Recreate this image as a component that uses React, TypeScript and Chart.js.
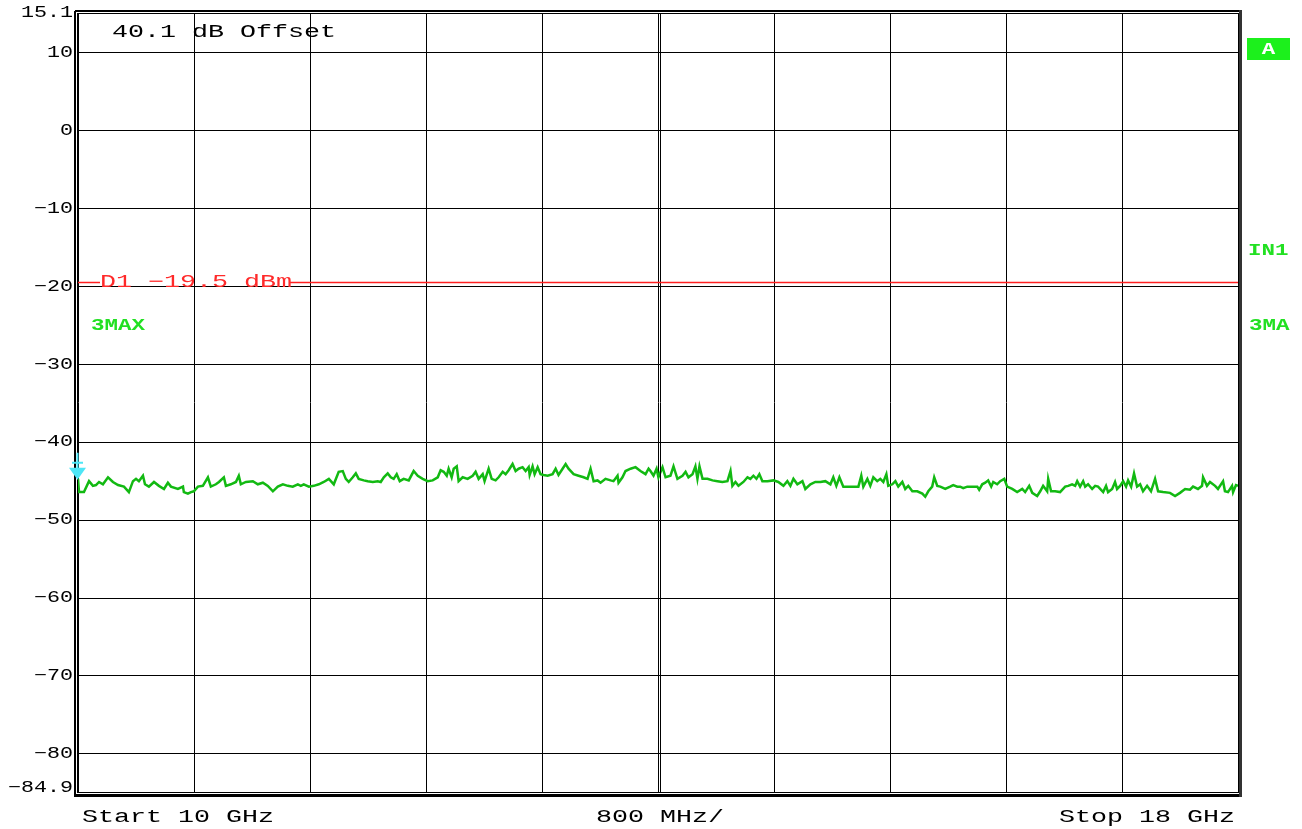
import { useEffect, useRef } from 'react';
import { Chart, registerables } from 'chart.js';

Chart.register(...registerables);

// ---- data ----
const freqMHz = [
  10000, 10007, 10041, 10076, 10103, 10124, 10145, 10172, 10207, 10241, 10276, 10317, 10351, 10379, 10400, 10420,
  10448, 10462, 10489, 10524, 10558, 10593, 10620, 10641, 10689, 10724, 10730, 10758, 10779, 10799, 10827, 10861,
  10896, 10916, 10951, 10972, 11006, 11020, 11054, 11089, 11109, 11123, 11158, 11206, 11240, 11275, 11309, 11344,
  11378, 11413, 11447, 11481, 11516, 11537, 11557, 11592, 11626, 11661, 11695, 11730, 11764, 11798, 11826, 11847,
  11867, 11895, 11916, 11936, 11971,
  11998, 12033, 12067, 12088, 12109, 12136, 12157, 12177, 12198, 12219, 12246, 12281, 12315, 12343, 12377, 12412,
  12446, 12481, 12501, 12522, 12543, 12556, 12577, 12591, 12612, 12625, 12653, 12687, 12722, 12742, 12763, 12791,
  12804, 12832, 12853, 12880, 12901, 12929, 12949, 12970, 12997, 13018, 13039, 13066, 13087, 13108, 13115, 13135,
  13149, 13170, 13190, 13211, 13239, 13273, 13294, 13314, 13342, 13363, 13383, 13418, 13452, 13487, 13514, 13535,
  13556, 13583, 13604, 13638, 13673, 13693, 13721, 13728, 13755, 13776, 13811, 13845, 13879, 13914, 13935,
  13948, 13969, 13990, 14003, 14031, 14052, 14086, 14107, 14134, 14169, 14190, 14210, 14238, 14258, 14272, 14286,
  14307, 14341, 14376, 14410, 14444, 14479, 14500, 14513, 14534, 14555, 14589, 14617, 14637, 14658, 14679, 14699,
  14720, 14755, 14796, 14830, 14865, 14892, 14913, 14934, 14961, 14996, 15016, 15051, 15085, 15120, 15154, 15189,
  15209, 15230, 15251, 15278, 15313, 15347, 15382, 15402, 15416, 15444, 15464, 15485, 15512, 15533, 15554, 15575,
  15588, 15616, 15637, 15657, 15685, 15705, 15726, 15754, 15788, 15823, 15843, 15864, 15891, 15905, 15926,
  15947, 15981, 16015, 16036, 16064, 16084, 16105, 16133, 16167, 16202, 16215, 16236, 16257, 16277, 16298, 16312,
  16339, 16360, 16388, 16408, 16443, 16477, 16512, 16532, 16560, 16581, 16615, 16636, 16656, 16684, 16691, 16711,
  16739, 16773, 16808, 16829, 16856, 16877, 16891, 16911, 16932, 16946, 16966, 16994, 17015, 17035, 17070, 17090,
  17104, 17132, 17152, 17166, 17187, 17208, 17228, 17242, 17263, 17283, 17304, 17325, 17345, 17373, 17400, 17428,
  17449, 17483, 17531, 17566, 17600, 17635, 17669, 17690, 17724, 17752, 17759, 17786, 17807, 17842, 17862, 17897,
  17910, 17931, 17959, 17966, 17986, 18000,
];

const levelDbm = [
  -44.7, -46.4, -46.4, -45.0, -45.6, -45.5, -45.1, -45.4, -44.5, -45.1, -45.5, -45.7, -46.4, -45.0, -44.7, -45.0,
  -44.3, -45.4, -45.7, -45.1, -45.6, -46.0, -45.2, -45.7, -46.0, -45.7, -46.4, -46.6, -46.4, -46.3, -45.7, -45.6,
  -44.5, -45.7, -45.4, -45.1, -44.5, -45.6, -45.4, -45.1, -44.3, -45.4, -45.1, -45.0, -45.4, -45.2, -45.6, -46.3,
  -45.7, -45.4, -45.6, -45.7, -45.4, -45.6, -45.4, -45.7, -45.6, -45.4, -45.1, -44.7, -45.4, -43.8, -43.7, -44.7,
  -45.1, -44.5, -44.0, -44.7, -44.9,
  -45.0, -45.1, -45.0, -45.1, -44.5, -44.0, -44.5, -44.7, -44.1, -45.0, -44.7, -44.9, -43.7, -44.3, -44.7, -45.0,
  -44.9, -44.5, -43.6, -43.8, -44.3, -43.4, -44.5, -43.4, -43.1, -45.0, -44.5, -44.7, -44.3, -43.8, -44.7, -44.1,
  -45.0, -43.4, -44.7, -44.9, -44.5, -43.8, -44.1, -43.6, -42.8, -43.7, -43.4, -43.2, -43.7, -43.2, -44.2, -43.1,
  -44.1, -43.2, -44.1, -44.2, -44.3, -44.1, -43.4, -44.2, -43.4, -42.8, -43.4, -44.1, -44.3, -44.5, -44.7, -43.4,
  -45.0, -44.9, -45.2, -44.7, -44.9, -45.0, -44.3, -45.2, -44.5, -43.7, -43.4, -43.2, -43.7, -44.1, -43.4,
  -43.7, -44.3, -43.4, -44.5, -43.2, -44.5, -44.3, -43.1, -44.7, -44.3, -43.8, -44.5, -44.1, -43.1, -44.7, -43.1,
  -44.7, -44.7, -44.9, -45.0, -45.1, -45.0, -43.7, -45.6, -45.1, -45.6, -45.1, -44.5, -44.7, -44.3, -44.7, -44.1,
  -45.0, -45.0, -44.9, -45.1, -45.6, -45.0, -45.6, -44.7, -45.4, -45.0, -46.0, -45.4, -45.1, -45.1, -45.0, -45.4,
  -44.5, -45.6, -44.5, -45.7, -45.7, -45.7, -45.7, -44.3, -45.7, -44.7, -45.6, -44.5, -45.0, -44.7, -45.1, -44.1,
  -45.6, -45.4, -45.0, -45.7, -45.1, -46.0, -45.6, -46.3, -46.3, -46.6, -47.0, -46.3, -45.7, -44.5, -45.6,
  -45.7, -46.0, -45.7, -45.5, -45.7, -45.7, -45.9, -45.7, -45.7, -45.7, -46.1, -45.4, -45.2, -44.9, -45.7, -45.1,
  -45.4, -45.0, -44.7, -45.7, -46.0, -46.4, -46.0, -46.4, -45.6, -46.5, -46.9, -46.3, -45.6, -46.3, -44.7, -46.3,
  -46.3, -46.4, -45.7, -45.6, -45.4, -45.6, -45.0, -45.7, -45.0, -45.7, -45.4, -46.0, -45.6, -45.7, -46.4, -45.6,
  -46.4, -46.0, -45.1, -46.0, -45.6, -45.0, -45.7, -44.9, -45.7, -44.0, -45.7, -45.4, -46.3, -45.6, -46.3, -44.7,
  -46.3, -46.4, -46.5, -46.9, -46.5, -46.0, -46.1, -45.7, -46.0, -45.6, -44.5, -45.6, -45.1, -45.6, -46.0, -45.0,
  -46.3, -46.4, -45.6, -46.4, -45.5, -45.6,
];

const startMHz = 10000;
const stopMHz = 18000;
const spanPerDivMHz = 800;
const refLevelDbm = 15.1;
const bottomLevelDbm = -84.9;
const yTickValues = [15.1, 10, 0, -10, -20, -30, -40, -50, -60, -70, -80, -84.9];
const yTickLabels = ['15.1', '10', '0', '−10', '−20', '−30', '−40', '−50', '−60', '−70', '−80', '−84.9'];
const displayLineDbm = -19.5;
const displayLineLabel = 'D1 −19.5 dBm';
const offsetLabel = '40.1 dB Offset';
const bottomLabels = ['Start 10 GHz', '800 MHz/', 'Stop 18 GHz'];
const traceLabel = '3MAX';
const rightLabels = ['IN1', '3MA'];
const screenLabel = 'A';

const MONO = '"Liberation Mono", "DejaVu Sans Mono", monospace';

function stretchText(
  ctx: CanvasRenderingContext2D,
  text: string,
  x: number,
  y: number,
  size: number,
  sx: number,
  color: string,
  align: CanvasTextAlign = 'left',
  baseline: CanvasTextBaseline = 'alphabetic',
  bold = false,
) {
  ctx.save();
  ctx.translate(x, y);
  ctx.scale(sx, 1);
  ctx.font = `${bold ? 'bold ' : ''}${size}px ${MONO}`;
  ctx.fillStyle = color;
  ctx.textAlign = align;
  ctx.textBaseline = baseline;
  ctx.fillText(text, 0, 0);
  ctx.restore();
}

const overlayPlugin = {
  id: 'analyzerOverlay',
  afterDatasetsDraw(chart: any) {
    const ctx: CanvasRenderingContext2D = chart.ctx;
    const xs = chart.scales.x;
    const ys = chart.scales.y;
    const { left, right, top, bottom } = chart.chartArea;

    // center double line
    const cx = xs.getPixelForValue((startMHz + stopMHz) / 2);
    ctx.save();
    ctx.strokeStyle = '#000';
    ctx.lineWidth = 1;
    ctx.beginPath();
    ctx.moveTo(Math.round(cx) + 2.5, top);
    ctx.lineTo(Math.round(cx) + 2.5, bottom);
    ctx.stroke();
    ctx.restore();

    // display line D1
    const dy = ys.getPixelForValue(displayLineDbm);
    const textX = left + 22;
    const textW = displayLineLabel.length * 16;
    ctx.save();
    ctx.strokeStyle = '#ff2020';
    ctx.lineWidth = 1.5;
    ctx.beginPath();
    ctx.moveTo(left, dy);
    ctx.lineTo(textX, dy);
    ctx.moveTo(textX + textW - 2, dy);
    ctx.lineTo(right, dy);
    ctx.stroke();
    ctx.restore();
    stretchText(ctx, displayLineLabel, textX, dy + 4.5, 18, 16 / 10.8, '#ff2a2a');

    // offset label
    stretchText(ctx, offsetLabel, left + 34, top + 24, 18, 16 / 10.8, '#000');

    // trace label inside
    stretchText(ctx, traceLabel, left + 13, ys.getPixelForValue(-25.1), 16, 13.5 / 9.6, '#22e022', 'left', 'middle', true);
  },
  afterDraw(chart: any) {
    const ctx: CanvasRenderingContext2D = chart.ctx;
    const ys = chart.scales.y;
    const { left, right, top, bottom } = chart.chartArea;

    // frame: inner thin + outer thick
    ctx.save();
    ctx.strokeStyle = '#000';
    ctx.lineWidth = 1;
    ctx.strokeRect(left - 0.5, top + 0.5, right - left + 1, bottom - top);
    ctx.lineWidth = 2;
    ctx.beginPath();
    ctx.moveTo(left - 3, top - 2);
    ctx.lineTo(right + 3, top - 2);
    ctx.stroke();
    ctx.beginPath();
    ctx.moveTo(left - 3, top - 2);
    ctx.lineTo(left - 3, bottom + 3);
    ctx.stroke();
    ctx.lineWidth = 3;
    ctx.beginPath();
    ctx.moveTo(left - 4, bottom + 3.5);
    ctx.lineTo(right + 3, bottom + 3.5);
    ctx.stroke();
    ctx.strokeStyle = '#333';
    ctx.beginPath();
    ctx.moveTo(right + 2.5, top - 3);
    ctx.lineTo(right + 2.5, bottom + 5);
    ctx.stroke();
    ctx.restore();

    // marker at first point (drawn on top of the frame)
    const meta = chart.getDatasetMeta(0);
    const p0 = meta.data[0];
    if (p0) {
      const mx = Math.round(p0.x) - 0.5;
      const my = p0.y;
      ctx.save();
      ctx.fillStyle = '#4ee6f6';
      ctx.strokeStyle = '#4ee6f6';
      ctx.lineWidth = 2;
      ctx.beginPath();
      ctx.moveTo(mx, my - 26);
      ctx.lineTo(mx, my - 10);
      ctx.moveTo(mx - 5.5, my - 16);
      ctx.lineTo(mx + 5.5, my - 16);
      ctx.stroke();
      ctx.beginPath();
      ctx.moveTo(mx - 8.5, my - 11);
      ctx.lineTo(mx + 8.5, my - 11);
      ctx.lineTo(mx, my + 1);
      ctx.closePath();
      ctx.fill();
      ctx.restore();
    }

    // y tick labels
    yTickValues.forEach((v, i) => {
      let y = ys.getPixelForValue(v);
      if (i === yTickValues.length - 1) y -= 4;
      stretchText(ctx, yTickLabels[i], left - 5, y, 16, 13 / 9.6, '#000', 'right', 'middle');
    });

    // bottom labels
    const by = 822;
    stretchText(ctx, bottomLabels[0], left + 4, by, 18, 16 / 10.8, '#000', 'left');
    stretchText(ctx, bottomLabels[1], (left + right) / 2 + 2, by, 18, 16 / 10.8, '#000', 'center');
    stretchText(ctx, bottomLabels[2], right - 3, by, 18, 16 / 10.8, '#000', 'right');

    // right side labels
    ctx.save();
    ctx.fillStyle = '#1cf01c';
    ctx.fillRect(right + 9, 38, 43, 22);
    ctx.restore();
    stretchText(ctx, screenLabel, right + 30.5, 49.5, 16, 1.4, '#fff', 'center', 'middle', true);
    stretchText(ctx, rightLabels[0], right + 10, ys.getPixelForValue(-15.4), 16, 13.5 / 9.6, '#22e022', 'left', 'middle', true);
    stretchText(ctx, rightLabels[1], right + 11, ys.getPixelForValue(-25.1), 16, 13.5 / 9.6, '#22e022', 'left', 'middle', true);
  },
};

export default function App() {
  const canvasRef = useRef<HTMLCanvasElement | null>(null);

  useEffect(() => {
    const canvas = canvasRef.current;
    if (!canvas) return;
    const points = freqMHz.map((f, i) => ({ x: f, y: levelDbm[i] }));
    const chart = new Chart(canvas, {
      type: 'line',
      data: {
        datasets: [
          {
            data: points,
            borderColor: '#12b912',
            borderWidth: 2.5,
            pointRadius: 0,
            tension: 0,
            fill: false,
          },
        ],
      },
      options: {
        animation: false,
        responsive: false,
        maintainAspectRatio: false,
        layout: { padding: { left: 78, right: 64, top: 13, bottom: 37 } },
        plugins: { legend: { display: false }, tooltip: { enabled: false } },
        scales: {
          x: {
            type: 'linear',
            min: startMHz,
            max: stopMHz,
            ticks: { display: false, stepSize: spanPerDivMHz },
            afterBuildTicks: (scale: any) => {
              const t = [];
              for (let f = startMHz; f <= stopMHz; f += spanPerDivMHz) t.push({ value: f });
              scale.ticks = t;
            },
            grid: { color: '#000', lineWidth: 1, drawTicks: false },
            border: { display: false },
          },
          y: {
            type: 'linear',
            min: bottomLevelDbm,
            max: refLevelDbm,
            ticks: { display: false },
            afterBuildTicks: (scale: any) => {
              scale.ticks = yTickValues.map((v) => ({ value: v }));
            },
            grid: { color: '#000', lineWidth: 1, drawTicks: false },
            border: { display: false },
          },
        },
      },
      plugins: [overlayPlugin],
    });
    return () => chart.destroy();
  }, []);

  return (
    <div style={{ position: 'fixed', left: 0, top: 0, width: 1302, height: 829, background: '#fff' }}>
      <canvas ref={canvasRef} width={1302} height={829} style={{ display: 'block', width: 1302, height: 829 }} />
    </div>
  );
}
